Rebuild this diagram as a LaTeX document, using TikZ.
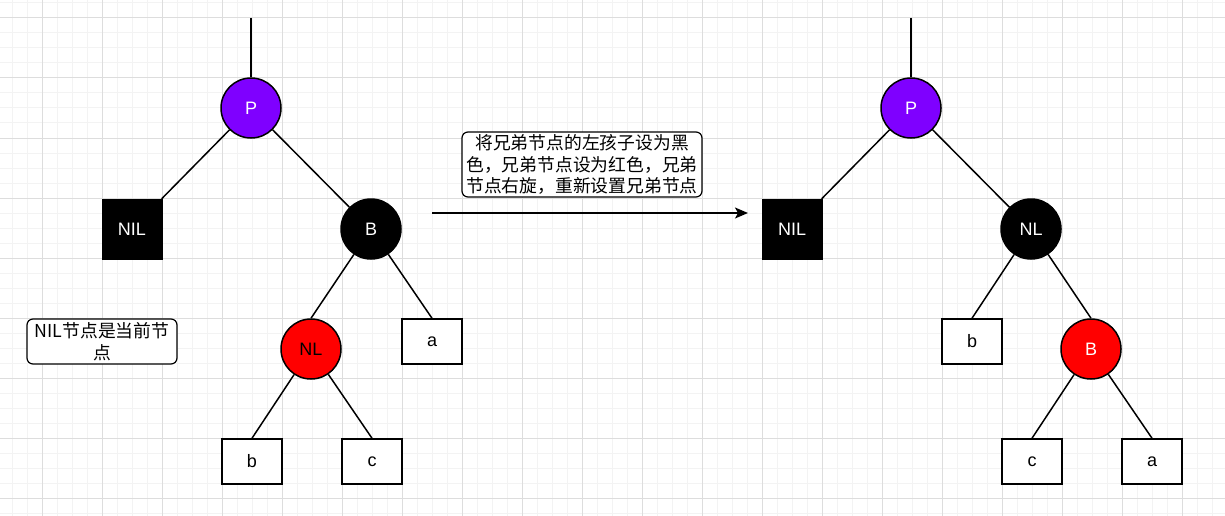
\documentclass[tikz,border=0pt]{standalone}
\usepackage{fontspec}
\setmainfont{Liberation Sans}
\newfontfamily\cjk{Noto Sans CJK SC}
\usetikzlibrary{arrows.meta}
\definecolor{purp}{HTML}{7F00FF}
\definecolor{gmaj}{HTML}{DDDDDD}
\definecolor{gmin}{HTML}{F3F3F3}
\begin{document}
\begin{tikzpicture}[x=1pt,y=-1pt,
  lbl/.style={font=\fontsize{18}{18}\selectfont},
  circ/.style={circle, draw=black, line width=1.5pt, minimum size=60pt, inner sep=0pt, lbl},
  sq/.style={rectangle, fill=black, draw=black, minimum width=60pt, minimum height=60pt, inner sep=0pt, text=white, lbl},
  leaf/.style={rectangle, draw=black, fill=white, line width=1.5pt, minimum width=60pt, minimum height=45pt, inner sep=0pt, lbl},
  note/.style={rectangle, rounded corners=6pt, draw=black, fill=white, line width=1.2pt, align=center, inner sep=0pt, font=\cjk\fontsize{17.8}{21.5}\selectfont},
  edge/.style={draw=black, line width=1.5pt},
  minorg/.style={draw=gmin, line width=1pt},
  majorg/.style={draw=gmaj, line width=1pt}]
\useasboundingbox (0,0) rectangle (1225,516);
\fill[white] (0,0) rectangle (1225,516);
% grid
\foreach \x in {12,27,...,1225} \draw[minorg] (\x,0) -- (\x,516);
\foreach \y in {3,18,...,516} \draw[minorg] (0,\y) -- (1225,\y);
\foreach \x in {42,102,...,1225} \draw[majorg] (\x,0) -- (\x,516);
\foreach \y in {18,78,...,516} \draw[majorg] (0,\y) -- (1225,\y);

% left tree
\coordinate (t1) at (251,18);
\node[circ, fill=purp, text=white] (P1) at (251,108) {P};
\node[sq] (NIL1) at (132,229) {NIL};
\node[circ, fill=black, text=white] (B1) at (371,229) {B};
\node[circ, fill=red, text=black] (NL1) at (311,349) {NL};
\node[leaf] (a1) at (432,341.5) {a};
\node[leaf] (b1) at (252,461.5) {b};
\node[leaf] (c1) at (372,461.5) {c};
\draw[edge] (t1) -- (P1);
\draw[edge] (P1) -- (NIL1);
\draw[edge] (P1) -- (B1);
\draw[edge] (B1) -- (NL1.north);
\draw[edge] (B1) -- (a1.north);
\draw[edge] (NL1) -- (b1.north);
\draw[edge] (NL1) -- (c1.north);

\node[note, minimum width=150pt, minimum height=45pt] (n1) at (102,341.5) {NIL节点是当前节\\点};

% arrow and note
\coordinate (ar1) at (432,213);
\coordinate (ar2) at (748,213);
\draw[edge, -{Stealth[length=13pt,width=11pt,inset=3pt]}] (ar1) -- (ar2);
\node[note, minimum width=240pt, minimum height=65pt] (n2) at (582,164.5) {将兄弟节点的左孩子设为黑\\色，兄弟节点设为红色，兄弟\\节点右旋，重新设置兄弟节点};

% right tree
\coordinate (t2) at (911,18);
\node[circ, fill=purp, text=white] (P2) at (911,108) {P};
\node[sq] (NIL2) at (792,229) {NIL};
\node[circ, fill=black, text=white] (NL2) at (1031,229) {NL};
\node[leaf] (b2) at (972,341.5) {b};
\node[circ, fill=red, text=white] (B2) at (1091,349) {B};
\node[leaf] (c2) at (1032,461.5) {c};
\node[leaf] (a2) at (1152,461.5) {a};
\draw[edge] (t2) -- (P2);
\draw[edge] (P2) -- (NIL2);
\draw[edge] (P2) -- (NL2);
\draw[edge] (NL2) -- (b2.north);
\draw[edge] (NL2) -- (B2.north);
\draw[edge] (B2) -- (c2.north);
\draw[edge] (B2) -- (a2.north);
\end{tikzpicture}
\end{document}
